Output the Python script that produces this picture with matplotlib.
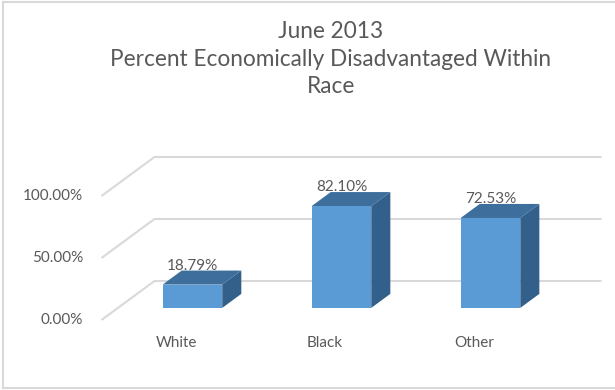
import matplotlib
matplotlib.use("Agg")
import matplotlib.pyplot as plt
from matplotlib.patches import Polygon
from matplotlib.lines import Line2D

# Data
categories = ["White", "Black", "Other"]
values = [18.79, 82.10, 72.53]
tick_values = [0, 50, 100]
title = "June 2013\nPercent Economically Disadvantaged Within\nRace"

plt.rcParams["font.family"] = ["Lato", "DejaVu Sans"]
text_color = "#595959"
grid_color = "#d9d9d9"
front_color = "#5b9bd5"
top_color = "#3d6e9c"
side_color = "#33608b"

# pseudo-3D depth offsets (data units per unit depth)
DX, DY = 0.3557, 31.45
zf, zb = 0.31, 0.67
w = 0.40


def proj(x, y, z):
    return (x + z * DX, y + z * DY)


fig = plt.figure(figsize=(6.15, 3.9), dpi=100)
ax = fig.add_axes([0, 0, 1, 1])
ax.set_xlim(-1.181, 2.946)
ax.set_ylim(-56.45, 258.06)
ax.axis("off")

# gridlines: left wall diagonal + back wall
for t in tick_values:
    p0 = proj(-0.5, t, 0)
    p1 = proj(-0.5, t, 1)
    p2 = proj(2.5, t, 1)
    ax.plot([p0[0], p1[0], p2[0]], [p0[1], p1[1], p2[1]],
            color=grid_color, lw=1.5, zorder=1, solid_capstyle="butt")
    ax.text(-0.624, t, f"{t:.2f}%", ha="right", va="center",
            fontsize=11, color=text_color)

# bars
for i, (cat, v) in enumerate(zip(categories, values)):
    l, r = i - w / 2, i + w / 2
    front = [proj(l, 0, zf), proj(r, 0, zf), proj(r, v, zf), proj(l, v, zf)]
    top = [proj(l, v, zf), proj(r, v, zf), proj(r, v, zb), proj(l, v, zb)]
    side = [proj(r, 0, zf), proj(r, v, zf), proj(r, v, zb), proj(r, 0, zb)]
    ax.add_patch(Polygon(side, closed=True, fc=side_color, ec="none", zorder=2))
    ax.add_patch(Polygon(top, closed=True, fc=top_color, ec="none", zorder=2))
    ax.add_patch(Polygon(front, closed=True, fc=front_color, ec="none", zorder=3))
    cx, cy = proj(i, v, zf)
    ax.annotate(f"{v:.2f}%", (cx, cy), xytext=(0, 13.7), textcoords="offset points",
                ha="center", va="center", fontsize=11, color=text_color, zorder=4)
    ax.text(i, -18.5, cat, ha="center", va="center", fontsize=11, color=text_color)

fig.text(331 / 615, 1 - 59 / 390, title, ha="center", va="center", fontsize=16.3,
         color=text_color, linespacing=1.4)

# chart border
for xs, ys in [([3 / 615, 3 / 615], [2 / 390, 388 / 390]),
               ([3 / 615, 1], [388 / 390, 388 / 390]),
               ([3 / 615, 1], [2 / 390, 2 / 390])]:
    fig.add_artist(Line2D(xs, ys, color=grid_color, lw=1.5))

fig.savefig("out.png", dpi=100, facecolor="white")
